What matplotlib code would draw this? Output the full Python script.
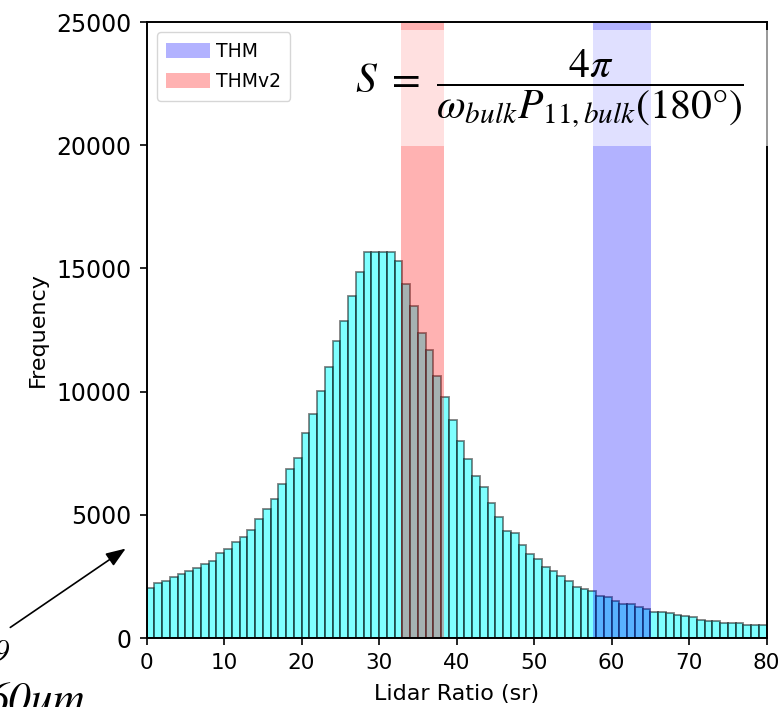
import matplotlib
matplotlib.use("Agg")
import matplotlib.pyplot as plt
from matplotlib.patches import Rectangle
import numpy as np

# Histogram of lidar ratios: counts per 1-sr bin from 0 to 80 sr
bin_edges = list(range(0, 81))
counts = [2020, 2245, 2300, 2460, 2580, 2730, 2840, 3000, 3110, 3435,
          3600, 3910, 4085, 4370, 4840, 5220, 5650, 6250, 6845, 7285,
          8320, 9090, 10036, 10985, 12050, 12876, 13880, 14865, 15650, 15680,
          15680, 15680, 15300, 14380, 13460, 12365, 11675, 10645, 9768, 8860,
          7994, 7277, 6574, 6140, 5491, 4910, 4342, 4248, 3774, 3396,
          3206, 2881, 2732, 2503, 2300, 2083, 1975, 1920, 1700, 1650,
          1495, 1370, 1370, 1272, 1163, 1060, 1040, 995, 933, 885,
          838, 730, 676, 676, 622, 622, 622, 514, 514, 514]

# Lidar-ratio ranges of the two habit models
range_labels = ["THM", "THMv2"]
range_bounds = [(57.6, 65.1), (32.85, 38.4)]
range_colors = ["blue", "red"]

x_ticks = [0, 10, 20, 30, 40, 50, 60, 70, 80]
y_ticks = [0, 5000, 10000, 15000, 20000, 25000]

plt.rcParams["mathtext.fontset"] = "stix"

W, H = 783, 707
fig = plt.figure(figsize=(W / 100, H / 100), dpi=100)
ax = fig.add_axes([146.5 / W, 1 - 638 / H, 620 / W, 616 / H])

centers = np.array(bin_edges[:-1]) + 0.5
ax.hist(centers, bins=bin_edges, weights=counts, color="cyan", alpha=0.5,
        edgecolor="black", linewidth=1.3)

for lab, (lo, hi), col in zip(range_labels, range_bounds, range_colors):
    ax.axvspan(lo, hi, color=col, alpha=0.3, lw=0, label=lab)

ax.set_xlim(0, 80)
ax.set_ylim(0, 25000)
ax.set_xticks(x_ticks)
ax.set_yticks(y_ticks)
ax.tick_params(length=5, width=1.2, pad=5)
ax.tick_params(axis="x", labelsize=15.5, pad=6)
ax.tick_params(axis="y", labelsize=17, pad=6)
for s in ax.spines.values():
    s.set_linewidth(1.4)
ax.set_xlabel("Lidar Ratio (sr)", fontsize=16, labelpad=8)
ax.set_ylabel("Frequency", fontsize=16, labelpad=6)

ax.legend(loc="upper left", fontsize=13.5, handlelength=2.35,
          handletextpad=0.3, handleheight=0.85, labelspacing=0.62,
          borderpad=0.5, borderaxespad=0.55)

# Lidar ratio definition, on a translucent white panel
fig.add_artist(Rectangle((345 / W, 1 - 145.7 / H), (W - 345) / W, (145.7 - 30) / H,
                         transform=fig.transFigure, facecolor="white",
                         edgecolor="none", alpha=0.6, zorder=5))
fig.text(549 / W, 1 - 89 / H,
         r"$S\ =\ \dfrac{4\pi}{\omega_{bulk}P_{11,bulk}(180°)}$",
         fontsize=30, ha="center", va="center", zorder=6)

# Side notes and arrow pointing into the histogram
fig.text(9 / W, 1 - 660 / H, "9", family="STIXGeneral", style="italic",
         fontsize=22, ha="right", va="baseline")
fig.text(-13 / W, 1 - 713 / H, "60um", family="STIXGeneral", style="italic",
         fontsize=32, ha="left", va="baseline")
ax.annotate("", xy=(128, H - 547), xytext=(8, H - 629),
            xycoords="figure pixels", textcoords="figure pixels",
            arrowprops=dict(arrowstyle="-|>,head_length=0.8,head_width=0.3",
                            mutation_scale=15, color="black", lw=1.2),
            annotation_clip=False)

fig.savefig("out.png", dpi=100)
